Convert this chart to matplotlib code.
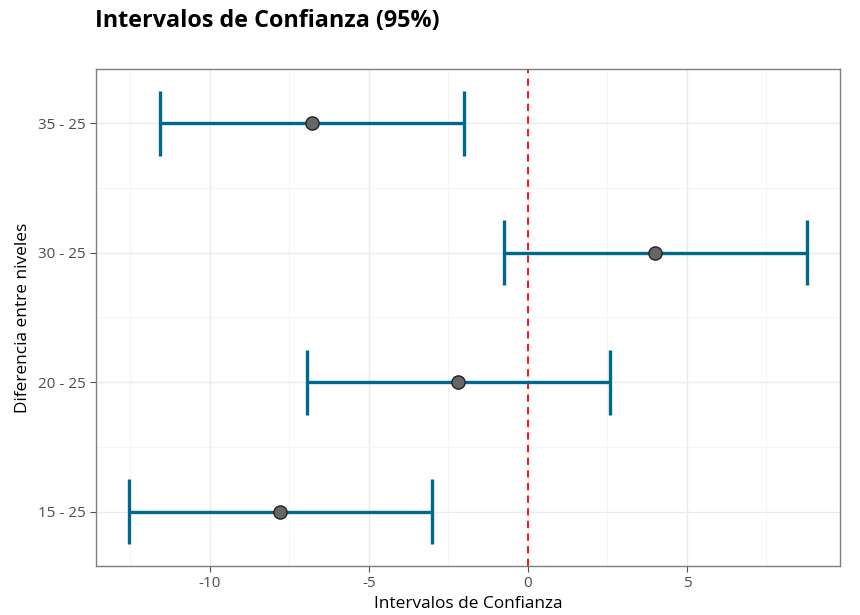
import matplotlib
matplotlib.use("Agg")
import matplotlib.pyplot as plt
import numpy as np

plt.rcParams['font.family'] = ['Open Sans', 'DejaVu Sans']
plt.rcParams['axes.unicode_minus'] = False

comparaciones = ["15 - 25", "20 - 25", "30 - 25", "35 - 25"]
diferencia = [-7.80, -2.20, 4.00, -6.80]
inferior = [-12.55, -6.95, -0.75, -11.57]
superior = [-3.02, 2.58, 8.77, -2.01]

fig = plt.figure(figsize=(8.6, 6.15), dpi=100)
ax = fig.add_axes([0.1116, 0.0797, 0.8651, 0.8081])

y = np.arange(1, len(comparaciones) + 1)

# grid like theme_bw
for v in [-10, -5, 0, 5]:
    ax.axvline(v, color="#EBEBEB", lw=1.0, zorder=0)
for v in [-12.5, -7.5, -2.5, 2.5, 7.5]:
    ax.axvline(v, color="#F4F4F4", lw=0.6, zorder=0)
for v in y:
    ax.axhline(v, color="#EBEBEB", lw=1.0, zorder=0)
for v in [1.5, 2.5, 3.5]:
    ax.axhline(v, color="#F4F4F4", lw=0.6, zorder=0)

ax.axvline(0, color="red", lw=1.3, ls=(0, (4, 3)), zorder=1)

col = "#00688B"
ax.hlines(y, inferior, superior, color=col, lw=2.4, zorder=2)
ax.vlines(inferior, y - 0.25, y + 0.25, color=col, lw=2.4, zorder=2)
ax.vlines(superior, y - 0.25, y + 0.25, color=col, lw=2.4, zorder=2)
ax.plot(diferencia, y, "o", ms=9.5, mfc="#666666", mec="#222222", mew=1.0, zorder=3)

ax.set_xlim(-13.58, 9.81)
ax.set_ylim(0.58, 4.42)
ax.set_xticks([-10, -5, 0, 5])
ax.set_yticks(y)
ax.set_yticklabels(comparaciones)
ax.tick_params(colors="#4D4D4D", labelsize=11, length=4, width=0.8, pad=3.5)
for s in ax.spines.values():
    s.set_color("#7F7F7F")
    s.set_linewidth(1.0)

ax.set_xlabel("Intervalos de Confianza", fontsize=12.4, labelpad=3)
ax.set_ylabel("Diferencia entre niveles", fontsize=12.4, labelpad=5)
fig.text(0.1105, 0.966, "Intervalos de Confianza (95%)", fontsize=16.8,
         fontweight="bold", ha="left", va="center")

fig.savefig("out.png", dpi=100)
